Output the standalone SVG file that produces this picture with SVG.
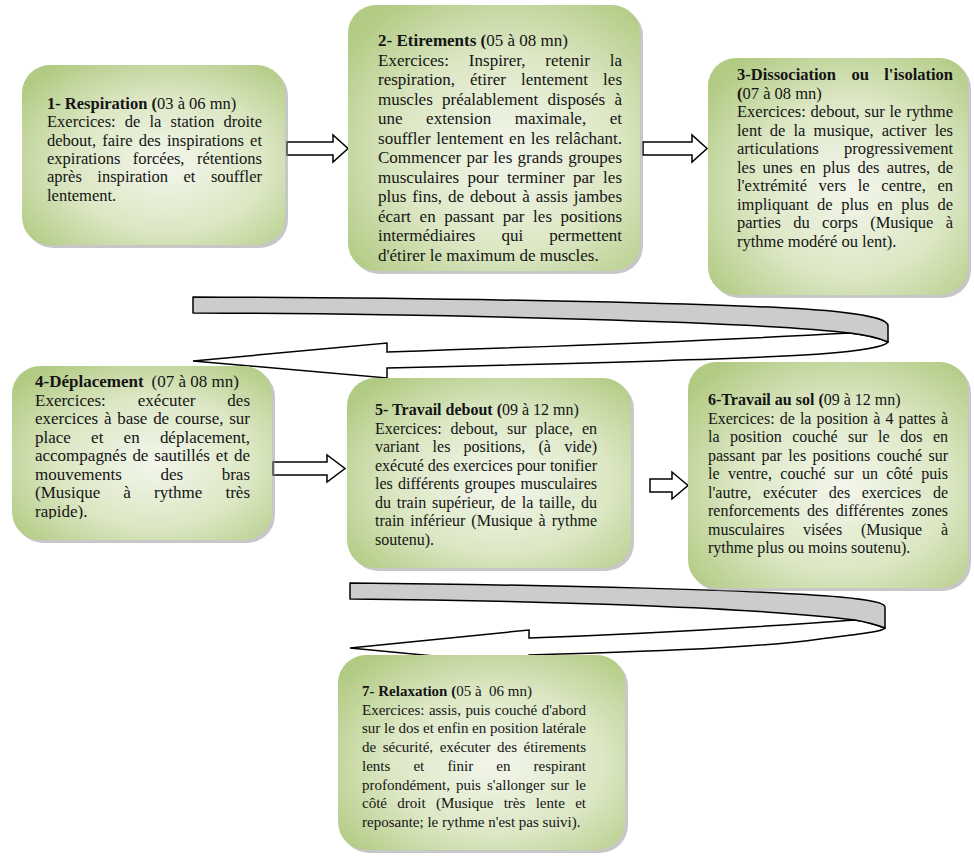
<svg xmlns="http://www.w3.org/2000/svg" width="974" height="864" viewBox="0 0 974 864">
  <defs>
    <radialGradient id="boxFill" cx="55%" cy="55%" r="68%">
      <stop offset="0" stop-color="#f3f6ec"/>
      <stop offset="0.55" stop-color="#dce7c4"/>
      <stop offset="1" stop-color="#b2cb84"/>
    </radialGradient>
    <clipPath id="clip4"><rect x="0" y="360" width="300" height="159"/></clipPath>
  </defs>
  <style>
    .box{fill:url(#boxFill)}
    .shadow{fill:#8f8f8f;opacity:.5}
    text{font-family:"Liberation Serif","Times New Roman",serif;font-size:16px;fill:#141414}
    .f17 text{font-size:17px}
    .f165 text{font-size:16.5px}
    .f15 text{font-size:15px}
    .b{font-weight:bold}
    .blk{fill:#fff;stroke:#000;stroke-width:1.5}
    .band{fill:#cccccc;stroke:#000;stroke-width:1.5;stroke-linejoin:round}
    .bandw{fill:#fff;stroke:#000;stroke-width:1.5;stroke-linejoin:miter}
  </style>
  <rect width="974" height="864" fill="#fff"/>

  <!-- connectors: block arrows and the two U-turn ribbons -->
  <g id="connectors">
    <polygon class="blk" points="287,142 333,142 333,135 348,148.5 333,162 333,155 287,155"/>
    <polygon class="blk" points="643,142 692,142 692,135 707,148.5 692,162 692,155 643,155"/>
    <polygon class="blk" points="273,462 327,462 327,455 345,468.5 327,482 327,475 273,475"/>
    <polygon class="blk" points="650,479 672,479 672,472 688,485.5 672,499 672,492 650,492"/>

    <!-- ribbon from step 3 back to step 4 -->
    <path class="bandw" d="M850,333 C760,338 600,345 387,352 L387,343 L193,361 L387,378 L387,368 C600,363 760,358 820,354 C860,351 885,347 888,342 Q875,336 850,333 Z"/>
    <path class="band" d="M193,297 L193,313 C450,314 760,322 850,333 Q875,336 888,342 L888,326 C888,320 875,316 840,312 C760,303 450,298 193,297 Z"/>

    <!-- ribbon from step 6 back to step 7 -->
    <path class="bandw" d="M855,620 C780,625 700,632 529,638 L529,630 L350,648 L529,665 L529,655 C700,650 770,646 820,639 C860,634 882,632 885,628 Q872,623 855,620 Z"/>
    <path class="band" d="M350,583 L350,599 C560,601 760,608 855,620 Q872,623 885,628 L885,607 C885,603 872,600 840,597 C760,590 560,585 350,583 Z"/>
  </g>

  <g id="node-1" class="f165">
    <rect class="shadow" x="25" y="68" width="263" height="180" rx="28"/>
    <rect class="box" x="22" y="65" width="263" height="180" rx="28"/>
    <text x="47" y="109"><tspan class="b">1- Respiration (</tspan>03 à 06 mn)</text>
    <text x="47" y="127.3" textLength="215" lengthAdjust="spacing" style="word-spacing:5px">Exercices: de la station droite</text>
    <text x="47" y="145.6" textLength="215" lengthAdjust="spacing" style="word-spacing:2.1px">debout, faire des inspirations et</text>
    <text x="47" y="163.9" textLength="215" lengthAdjust="spacing" style="word-spacing:8.3px">expirations forcées, rétentions</text>
    <text x="47" y="182.2" textLength="215" lengthAdjust="spacing" style="word-spacing:11.3px">après inspiration et souffler</text>
    <text x="47" y="200.5">lentement.</text>
  </g>

  <g id="node-2" class="f17">
    <rect class="shadow" x="351" y="8" width="292" height="266" rx="28"/>
    <rect class="box" x="348" y="5" width="292" height="266" rx="28"/>
    <text x="378" y="46"><tspan class="b">2- Etirements (</tspan>05 à 08 mn)</text>
    <text x="378" y="65.5" textLength="244" lengthAdjust="spacing" style="word-spacing:15.6px">Exercices: Inspirer, retenir la</text>
    <text x="378" y="85" textLength="244" lengthAdjust="spacing" style="word-spacing:10.8px">respiration, étirer lentement les</text>
    <text x="378" y="104.5" textLength="244" lengthAdjust="spacing" style="word-spacing:5px">muscles préalablement disposés à</text>
    <text x="378" y="124" textLength="244" lengthAdjust="spacing" style="word-spacing:19.3px">une extension maximale, et</text>
    <text x="378" y="143.5" textLength="244" lengthAdjust="spacing" style="word-spacing:1.4px">souffler lentement en les relâchant.</text>
    <text x="378" y="163" textLength="244" lengthAdjust="spacing" style="word-spacing:1px">Commencer par les grands groupes</text>
    <text x="378" y="182.5" textLength="244" lengthAdjust="spacing" style="word-spacing:4.1px">musculaires pour terminer par les</text>
    <text x="378" y="202" textLength="244" lengthAdjust="spacing" style="word-spacing:1.7px">plus fins, de debout à assis jambes</text>
    <text x="378" y="221.5" textLength="244" lengthAdjust="spacing" style="word-spacing:4.3px">écart en passant par les positions</text>
    <text x="378" y="241" textLength="244" lengthAdjust="spacing" style="word-spacing:21.9px">intermédiaires qui permettent</text>
    <text x="378" y="260.5">d'étirer le maximum de muscles.</text>
  </g>

  <g id="node-3" class="f165">
    <rect class="shadow" x="711" y="61" width="260" height="237" rx="28"/>
    <rect class="box" x="708" y="58" width="260" height="237" rx="28"/>
    <text x="737" y="80" class="b" textLength="216" lengthAdjust="spacing" style="word-spacing:11.3px">3-Dissociation ou l'isolation</text>
    <text x="737" y="98.5"><tspan class="b">(</tspan>07 à 08 mn)</text>
    <text x="737" y="117" textLength="216" lengthAdjust="spacing" style="word-spacing:0.7px">Exercices: debout, sur le rythme</text>
    <text x="737" y="135.5" textLength="216" lengthAdjust="spacing" style="word-spacing:4px">lent de la musique, activer les</text>
    <text x="737" y="154" textLength="216" lengthAdjust="spacing" style="word-spacing:21.2px">articulations progressivement</text>
    <text x="737" y="172.5" textLength="216" lengthAdjust="spacing" style="word-spacing:3.1px">les unes en plus des autres, de</text>
    <text x="737" y="191" textLength="216" lengthAdjust="spacing" style="word-spacing:7.5px">l'extrémité vers le centre, en</text>
    <text x="737" y="209.5" textLength="216" lengthAdjust="spacing" style="word-spacing:4.4px">impliquant de plus en plus de</text>
    <text x="737" y="228" textLength="216" lengthAdjust="spacing" style="word-spacing:8.2px">parties du corps (Musique à</text>
    <text x="737" y="246.5">rythme modéré ou lent).</text>
  </g>

  <g id="node-4" class="f17">
    <rect class="shadow" x="15" y="369" width="260" height="174" rx="28"/>
    <rect class="box" x="12" y="366" width="260" height="174" rx="28"/>
    <g clip-path="url(#clip4)">
      <text x="35" y="387"><tspan class="b">4-Déplacement</tspan><tspan dx="8">(07 à 08 mn)</tspan></text>
      <text x="35" y="405.5" textLength="215" lengthAdjust="spacing" style="word-spacing:27.7px">Exercices: exécuter des</text>
      <text x="35" y="424" textLength="215" lengthAdjust="spacing" style="word-spacing:1.5px">exercices à base de course, sur</text>
      <text x="35" y="442.5" textLength="215" lengthAdjust="spacing" style="word-spacing:16px">place et en déplacement,</text>
      <text x="35" y="461" textLength="215" lengthAdjust="spacing" style="word-spacing:1.6px">accompagnés de sautillés et de</text>
      <text x="35" y="479.5" textLength="215" lengthAdjust="spacing" style="word-spacing:34.3px">mouvements des bras</text>
      <text x="35" y="498" textLength="215" lengthAdjust="spacing" style="word-spacing:18.9px">(Musique à rythme très</text>
      <text x="35" y="516.5">rapide).</text>
    </g>
  </g>

  <g id="node-5">
    <rect class="shadow" x="350" y="381" width="284" height="190" rx="28"/>
    <rect class="box" x="347" y="378" width="284" height="190" rx="28"/>
    <text x="375" y="415"><tspan class="b">5- Travail debout (</tspan>09 à 12 mn)</text>
    <text x="375" y="433.5" textLength="222" lengthAdjust="spacing" style="word-spacing:4.8px">Exercices: debout, sur place, en</text>
    <text x="375" y="452" textLength="222" lengthAdjust="spacing" style="word-spacing:9.2px">variant les positions, (à vide)</text>
    <text x="375" y="470.5" textLength="222" lengthAdjust="spacing" style="word-spacing:0px">exécuté des exercices pour tonifier</text>
    <text x="375" y="489" textLength="222" lengthAdjust="spacing" style="word-spacing:1.3px">les différents groupes musculaires</text>
    <text x="375" y="507.5" textLength="222" lengthAdjust="spacing" style="word-spacing:1.7px">du train supérieur, de la taille, du</text>
    <text x="375" y="526" textLength="222" lengthAdjust="spacing" style="word-spacing:1.9px">train inférieur (Musique à rythme</text>
    <text x="375" y="544.5">soutenu).</text>
  </g>

  <g id="node-6">
    <rect class="shadow" x="691" y="365" width="280" height="226" rx="28"/>
    <rect class="box" x="688" y="362" width="280" height="226" rx="28"/>
    <text x="708" y="405"><tspan class="b">6-Travail au sol (</tspan>09 à 12 mn)</text>
    <text x="708" y="423.5" textLength="240" lengthAdjust="spacing" style="word-spacing:1.1px">Exercices: de la position à 4 pattes à</text>
    <text x="708" y="442" textLength="240" lengthAdjust="spacing" style="word-spacing:6.5px">la position couché sur le dos en</text>
    <text x="708" y="460.5" textLength="240" lengthAdjust="spacing" style="word-spacing:2.4px">passant par les positions couché sur</text>
    <text x="708" y="479" textLength="240" lengthAdjust="spacing" style="word-spacing:4.4px">le ventre, couché sur un côté puis</text>
    <text x="708" y="497.5" textLength="240" lengthAdjust="spacing" style="word-spacing:7.6px">l'autre, exécuter des exercices de</text>
    <text x="708" y="516" textLength="240" lengthAdjust="spacing" style="word-spacing:3.4px">renforcements des différentes zones</text>
    <text x="708" y="534.5" textLength="240" lengthAdjust="spacing" style="word-spacing:14.7px">musculaires visées (Musique à</text>
    <text x="708" y="553">rythme plus ou moins soutenu).</text>
  </g>

  <g id="node-7" class="f15">
    <rect class="shadow" x="341" y="658" width="287" height="195" rx="28"/>
    <rect class="box" x="338" y="655" width="287" height="195" rx="28"/>
    <text x="362" y="696"><tspan class="b">7- Relaxation (</tspan>05 à&#160; 06 mn)</text>
    <text x="362" y="714.7" textLength="224" lengthAdjust="spacing" style="word-spacing:0.7px">Exercices: assis, puis couché d'abord</text>
    <text x="362" y="733.4" textLength="224" lengthAdjust="spacing" style="word-spacing:0px">sur le dos et enfin en position latérale</text>
    <text x="362" y="752.1" textLength="224" lengthAdjust="spacing" style="word-spacing:2.8px">de sécurité, exécuter des étirements</text>
    <text x="362" y="770.8" textLength="224" lengthAdjust="spacing" style="word-spacing:19.4px">lents et finir en respirant</text>
    <text x="362" y="789.5" textLength="224" lengthAdjust="spacing" style="word-spacing:2.3px">profondément, puis s'allonger sur le</text>
    <text x="362" y="808.2" textLength="224" lengthAdjust="spacing" style="word-spacing:6.6px">côté droit (Musique très lente et</text>
    <text x="362" y="826.9">reposante; le rythme n'est pas suivi).</text>
  </g>
</svg>
